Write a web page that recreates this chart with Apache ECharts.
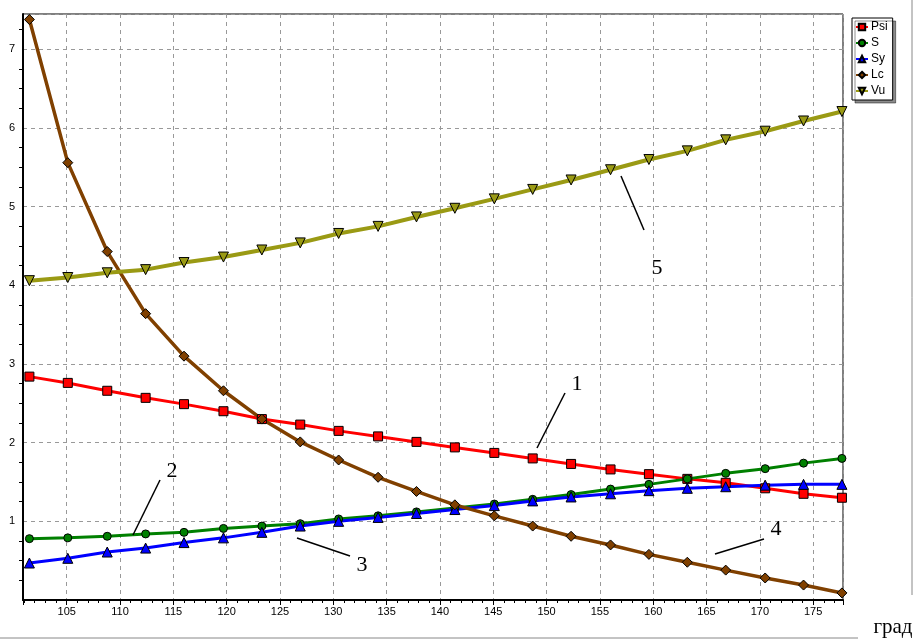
<!DOCTYPE html>
<html>
<head>
<meta charset="utf-8">
<script src="https://cdn.jsdelivr.net/npm/echarts@6/dist/echarts.min.js"></script>
<style>
html, body { margin: 0; padding: 0; background: #fff; }
#chart { width: 923px; height: 641px; }
</style>
</head>
<body>
<div id="chart"></div>
<script>
// углы, град
var angles = [101.5, 105.1, 108.8, 112.4, 116.0, 119.7, 123.3, 126.9, 130.5, 134.2, 137.8,
              141.4, 145.1, 148.7, 152.3, 156.0, 159.6, 163.2, 166.8, 170.5, 174.1, 177.7];
var xRange = [100.9, 177.8];

var psi = [2.84, 2.76, 2.66, 2.57, 2.49, 2.40, 2.30, 2.23, 2.15, 2.08, 2.01,
           1.94, 1.87, 1.80, 1.73, 1.66, 1.60, 1.54, 1.49, 1.42, 1.35, 1.30];
var s   = [0.78, 0.79, 0.81, 0.84, 0.86, 0.91, 0.94, 0.97, 1.03, 1.07, 1.12,
           1.17, 1.22, 1.28, 1.34, 1.41, 1.47, 1.54, 1.61, 1.67, 1.74, 1.80];
var sy  = [0.47, 0.53, 0.61, 0.66, 0.73, 0.79, 0.86, 0.94, 1.00, 1.05, 1.10,
           1.15, 1.20, 1.26, 1.31, 1.35, 1.39, 1.42, 1.44, 1.46, 1.47, 1.47];
var lc  = [7.38, 5.56, 4.43, 3.64, 3.10, 2.66, 2.30, 2.01, 1.78, 1.56, 1.38,
           1.21, 1.07, 0.94, 0.81, 0.70, 0.58, 0.48, 0.38, 0.28, 0.19, 0.09];
var vu  = [4.06, 4.10, 4.16, 4.20, 4.29, 4.36, 4.45, 4.54, 4.66, 4.75, 4.87,
           4.98, 5.10, 5.22, 5.34, 5.47, 5.60, 5.71, 5.85, 5.96, 6.09, 6.21];

var seriesNames = ['Psi', 'S', 'Sy', 'Lc', 'Vu'];

function pairs(ys) {
    var out = [];
    for (var i = 0; i < angles.length; i++) {
        out.push([angles[i], ys[i]]);
    }
    return out;
}

function makeSeries(name, ys, color, symbol, size, width, rotate) {
    return {
        name: name,
        type: 'line',
        data: pairs(ys),
        symbol: symbol,
        symbolSize: size,
        symbolRotate: rotate || 0,
        showAllSymbol: true,
        lineStyle: { color: color, width: width },
        itemStyle: { color: color, borderColor: '#000', borderWidth: 1 },
        emphasis: { disabled: true }
    };
}

// выноски с номерами кривых (пиксели)
var callouts = [
    { text: '1', line: [537, 448, 565, 393], at: [577, 384] },
    { text: '2', line: [133, 535, 160, 480], at: [172, 471] },
    { text: '3', line: [297, 538, 350, 556], at: [362, 565] },
    { text: '4', line: [715, 554, 764, 539], at: [776, 529] },
    { text: '5', line: [621, 176, 644, 230], at: [657, 268] }
];

var graphics = [];
callouts.forEach(function (c) {
    graphics.push({
        type: 'line',
        shape: { x1: c.line[0], y1: c.line[1], x2: c.line[2], y2: c.line[3] },
        style: { stroke: '#000', lineWidth: 1.5 },
        z: 100
    });
    graphics.push({
        type: 'text',
        x: c.at[0], y: c.at[1],
        style: {
            text: c.text, fill: '#000',
            font: '22px "Liberation Serif", "DejaVu Serif", serif',
            align: 'center', verticalAlign: 'middle'
        },
        z: 100
    });
});
graphics.push({
    type: 'text', x: 893, y: 627,
    style: {
        text: 'град', fill: '#000',
        font: '21px "Liberation Serif", "DejaVu Serif", serif',
        align: 'center', verticalAlign: 'middle'
    }
});
graphics.push({
    type: 'line', shape: { x1: 0, y1: 638, x2: 858, y2: 638 },
    style: { stroke: '#888', lineWidth: 1 }
});
graphics.push({
    type: 'line', shape: { x1: 912, y1: 0, x2: 912, y2: 595 },
    style: { stroke: '#888', lineWidth: 1 }
});

var font = '"Liberation Sans", Arial, sans-serif';
var myChart = echarts.init(document.getElementById('chart'));
myChart.setOption({
    animation: false,
    backgroundColor: '#fff',
    grid: {
        left: 23, top: 14, width: 820, height: 586,
        show: true, borderColor: '#000', borderWidth: 1, backgroundColor: '#fff'
    },
    legend: {
        data: seriesNames,
        orient: 'vertical',
        left: 852, top: 18,
        padding: [3, 5, 3, 3],
        itemWidth: 12, itemHeight: 8, itemGap: 4,
        backgroundColor: '#fff',
        borderColor: '#000', borderWidth: 1,
        shadowColor: 'rgba(0,0,0,0.45)', shadowOffsetX: 3, shadowOffsetY: 3, shadowBlur: 0,
        textStyle: { fontFamily: font, fontSize: 12, color: '#000', padding: [0, 0, 0, -2] },
        selectedMode: false
    },
    xAxis: {
        type: 'value',
        min: xRange[0],
        max: xRange[1],
        splitNumber: 15,
        axisLine: { lineStyle: { color: '#000', width: 2 } },
        axisTick: { show: true, length: 5, lineStyle: { color: '#000' } },
        minorTick: { show: true, splitNumber: 5, length: 3, lineStyle: { color: '#000' } },
        axisLabel: { showMinLabel: false, showMaxLabel: false, margin: 6, fontFamily: font, fontSize: 11, color: '#000' },
        splitLine: { show: true, lineStyle: { color: '#999', type: [4, 4], width: 1 } }
    },
    yAxis: {
        type: 'value',
        min: 0, max: 7.45, interval: 1,
        axisLine: { show: true, lineStyle: { color: '#000', width: 2 } },
        axisTick: { show: false },
        minorTick: { show: true, splitNumber: 4, length: 4, lineStyle: { color: '#000' } },
        axisLabel: { showMinLabel: false, showMaxLabel: false, margin: 8, fontFamily: font, fontSize: 11, color: '#000' },
        splitLine: { show: true, lineStyle: { color: '#999', type: [4, 4], width: 1 } }
    },
    series: [
        makeSeries('Psi', psi, '#ff0000', 'rect', 9, 3),
        makeSeries('S', s, '#008000', 'circle', 8, 3),
        makeSeries('Sy', sy, '#0000ff', 'triangle', 10, 3),
        makeSeries('Lc', lc, '#804000', 'diamond', 10, 3.5),
        makeSeries('Vu', vu, '#9a9a14', 'triangle', 10, 4, 180)
    ],
    graphic: graphics
});
</script>
</body>
</html>
